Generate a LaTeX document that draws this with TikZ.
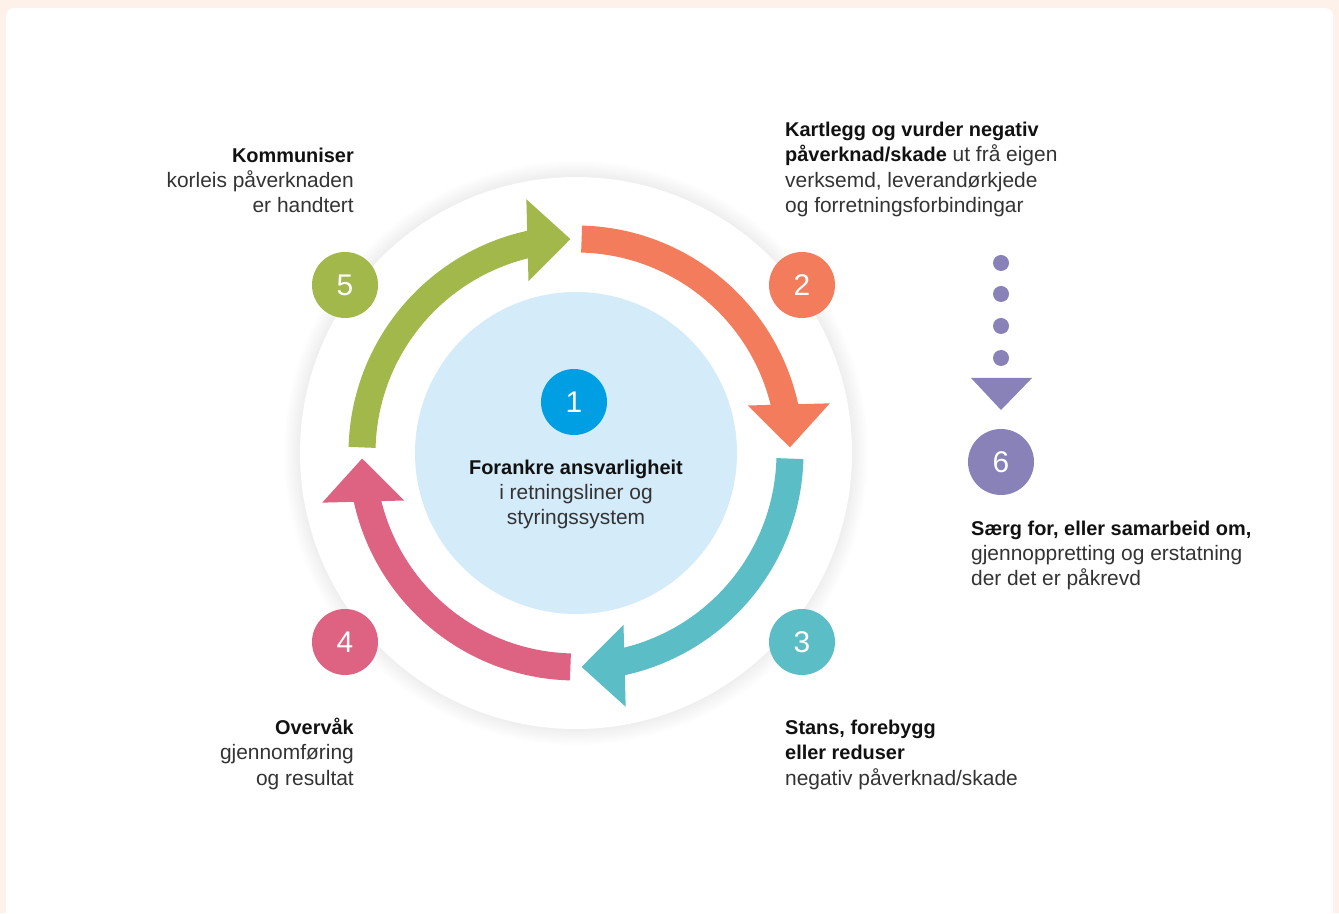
\documentclass[tikz,border=0pt]{standalone}
\usepackage{fontspec}
\setmainfont{Liberation Sans}
\usetikzlibrary{calc}
\definecolor{bgpeach}{HTML}{FDF1E9}
\definecolor{agreen}{HTML}{A2B84B}
\definecolor{aorange}{HTML}{F27C5B}
\definecolor{ateal}{HTML}{5BBDC6}
\definecolor{apink}{HTML}{DE6281}
\definecolor{ablue}{HTML}{009FE3}
\definecolor{alight}{HTML}{D4EBFA}
\definecolor{apurple}{HTML}{8882B9}
\definecolor{txtgray}{HTML}{333333}
\definecolor{txtblack}{HTML}{111111}
\newcommand{\hd}[1]{{\color{txtblack}\fontsize{20}{25.5}\selectfont\bfseries #1}}
\tikzset{
  num/.style={circle,minimum size=66bp,inner sep=0pt,text=white,
    font=\fontsize{30}{30}\selectfont},
  txt/.style={inner sep=0pt,text=txtgray,font=\fontsize{21}{25.5}\selectfont}
}

\begin{document}
\begin{tikzpicture}[x=1bp,y=1bp]
\useasboundingbox (0,0) rectangle (1339,913);
\fill[bgpeach] (0,0) rectangle (1339,913);
\fill[white,rounded corners=8bp] (6,-20) rectangle (1333,905);
\coordinate (C) at (576,460);
% soft shadow round the big circle
\foreach \k in {1,...,8} \fill[black,opacity=0.008] (C) circle[radius=276+2*\k];
\fill[white] (C) circle[radius=276];
\fill[alight] (C) circle[radius=161];
% the four curved arrows
\foreach \cl/\sa/\ta in {agreen/178.5/91.5,aorange/88.5/1.5,ateal/-1.5/-88.5,apink/-91.5/-178.5}{
  \pgfmathsetmacro\ea{\ta+10}
  \pgfmathsetmacro\ba{\ta+90}
  \draw[\cl,line width=27bp] ($(C)+(\sa:214)$) arc[start angle=\sa,end angle=\ea,radius=214];
  \fill[\cl] ($(C)+(\ta:214)$) -- ($(C)+(\ta:214)+(\ba:43)+(\ta:41)$)
    -- ($(C)+(\ta:214)+(\ba:43)-(\ta:41)$) -- cycle;
}
\node[num,fill=ablue] (n1) at (574,511) {1};
\node[num,fill=aorange] (n2) at (802,628) {2};
\node[num,fill=ateal] (n3) at (802,271) {3};
\node[num,fill=apink] (n4) at (345,271) {4};
\node[num,fill=agreen] (n5) at (345,628) {5};
\node[num,fill=apurple] (n6) at (1001,451) {6};
% dots and head down to 6
\foreach \y in {650,619,587,555} \fill[apurple] (1001,\y) circle[radius=8];
\fill[apurple] (971,535) -- (1032,535) -- (1001,503) -- cycle;
% texts (base = last line)
\node[txt,anchor=base,align=center] (t1) at (576,388)
  {\hd{Forankre ansvarligheit}\\i retningsliner og\\styringssystem};
\node[txt,anchor=base west,align=left] (t2) at (785,700.5)
  {\hd{Kartlegg og vurder negativ}\\\hd{påverknad/skade} ut frå eigen\\verksemd, leverandørkjede\\og forretningsforbindingar};
\node[txt,anchor=base west,align=left] (t3) at (785,128)
  {\hd{Stans, forebygg}\\\hd{eller reduser}\\negativ påverknad/skade};
\node[txt,anchor=base east,align=right] (t4) at (354,128)
  {\hd{Overvåk}\\gjennomføring\\og resultat};
\node[txt,anchor=base east,align=right] (t5) at (354,700)
  {\hd{Kommuniser}\\korleis påverknaden\\er handtert};
\node[txt,anchor=base west,align=left] (t6) at (971,327)
  {\hd{Særg for, eller samarbeid om,}\\gjennoppretting og erstatning\\der det er påkrevd};
\end{tikzpicture}
\end{document}
